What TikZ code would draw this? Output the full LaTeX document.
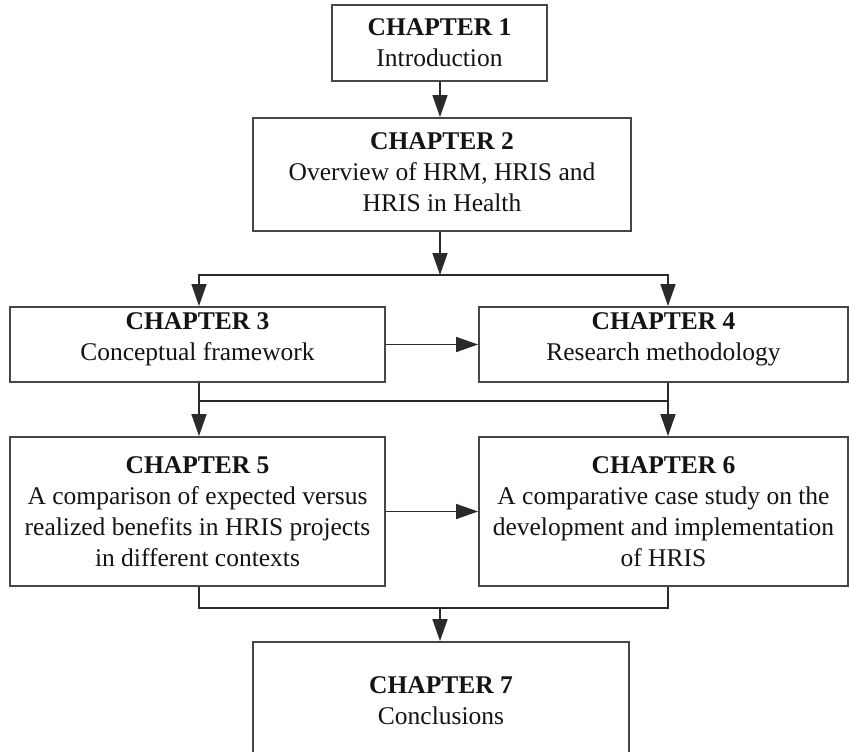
\documentclass[tikz,border=0pt]{standalone}
\usepackage{fontspec}
\setmainfont{Liberation Serif}
\usetikzlibrary{arrows.meta}
\definecolor{boxline}{HTML}{474747}
\definecolor{conline}{HTML}{2A2A2A}
\definecolor{txt}{HTML}{141414}
\tikzset{
  chap/.style={draw=boxline, line width=1.9pt, fill=white, align=center,
    text=txt, inner sep=0pt, font=\fontsize{25.5}{31}\selectfont},
  conn/.style={draw=conline, line width=1.5pt},
  arr/.style={conn, -{Triangle[length=22pt,width=15pt]}},
}
\begin{document}
\begin{tikzpicture}[x=1pt,y=-1pt]
\path[use as bounding box, clip] (0,0) rectangle (849,752);
\fill[white] (0,0) rectangle (849,752);

\node[chap, minimum width=215pt, minimum height=76pt] (b1) at (439.5,43) {\textbf{CHAPTER 1}\\Introduction};
\node[chap, minimum width=378pt, minimum height=113pt, text depth=5pt] (b2) at (442,174.5) {\textbf{CHAPTER 2}\\Overview of HRM, HRIS and\\HRIS in Health};
\node[chap, minimum width=375pt, minimum height=75pt, text depth=15pt] (b3) at (197.5,344.5) {\textbf{CHAPTER 3}\\Conceptual framework};
\node[chap, minimum width=369pt, minimum height=75pt, text depth=15pt] (b4) at (663.5,344.5) {\textbf{CHAPTER 4}\\Research methodology};
\node[chap, minimum width=375pt, minimum height=149pt] (b5) at (197.5,511.5) {\textbf{CHAPTER 5}\\A comparison of expected versus\\realized benefits in HRIS projects\\in different contexts};
\node[chap, minimum width=369pt, minimum height=149pt] (b6) at (663.5,511.5) {\textbf{CHAPTER 6}\\A comparative case study on the\\development and implementation\\of HRIS};
\node[chap, minimum width=376pt, minimum height=118pt] (b7) at (441,701) {\textbf{CHAPTER 7}\\Conclusions};

\coordinate (cx) at (440,0);
\coordinate (lx) at (199,0);
\coordinate (rx) at (668,0);
\coordinate (j1) at (440,275);
\coordinate (j2) at (440,401);
\coordinate (j3) at (440,608);

\draw[arr] (b1.south -| cx) -- (b2.north -| cx);
\draw[arr] (b2.south -| cx) -- (j1);
\draw[arr] (j1) -| (b3.north -| lx);
\draw[arr] (j1) -| (b4.north -| rx);
\draw[arr] (b3.east) -- (b4.west);
\draw[arr] (b3.south -| lx) -- (b5.north -| lx);
\draw[arr] (b4.south -| rx) -- (b6.north -| rx);
\draw[conn] (j2 -| lx) -- (j2 -| rx);
\draw[arr] (b5.east) -- (b6.west);
\draw[conn] (b5.south -| lx) |- (j3) -| (b6.south -| rx);
\draw[arr] (j3) -- (b7.north -| cx);
\end{tikzpicture}
\end{document}
